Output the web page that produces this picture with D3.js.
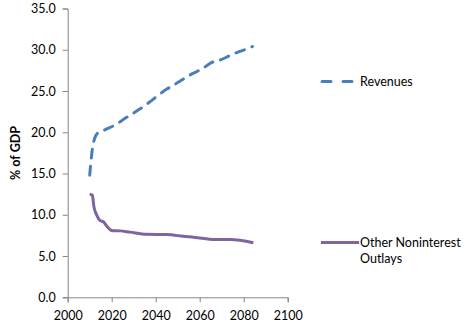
<!DOCTYPE html>
<html><head><meta charset="utf-8">
<script src="https://cdn.jsdelivr.net/npm/d3@7"></script>
<style>body{margin:0;background:#fff}svg{display:block}</style>
</head><body>
<svg id="c" width="467" height="330"></svg>
<script>
const revYears = [2010,2010.9,2011.6,2013.6,2017,2022.3,2025.6,2029.8,2033.3,2037.4,2040.8,2044.9,2048.7,2052.9,2056.7,2061.2,2065,2069.7,2073.8,2078.3,2082.4,2084];
const revValues = [14.8,17.3,18.6,19.9,20.3,21.0,21.6,22.3,22.9,23.7,24.4,25.2,25.8,26.5,27.1,27.7,28.4,28.8,29.3,29.8,30.2,30.4];
const outYears = [2010,2011.2,2011.9,2013.2,2014.7,2016.2,2017.7,2020,2023.8,2028.3,2035.9,2045,2052.5,2060,2066,2073.8,2084.4];
const outValues = [12.5,12.4,11.0,9.95,9.3,9.15,8.65,8.1,8.05,7.9,7.65,7.6,7.4,7.2,7.0,7.0,6.6];
const xTicks = [2000,2020,2040,2060,2080,2100];
const yTicks = [0,5,10,15,20,25,30,35];
const seriesNames = ["Revenues","Other Noninterest Outlays"];
const colors = ["#4a7ebb","#7f64a2"];

const svg = d3.select("#c");
const x = d3.scaleLinear().domain([2000,2100]).range([67.7,287.7]);
const y = d3.scaleLinear().domain([0,35]).range([297.3,8.5]);
const font = "Lato, 'Open Sans', sans-serif";

const xa = svg.append("g").attr("transform",`translate(0,${y(0)})`)
  .call(d3.axisBottom(x).tickValues(xTicks).tickFormat(d3.format("d")).tickSizeOuter(0).tickSize(5).tickPadding(9));
const ya = svg.append("g").attr("transform",`translate(${x(2000)},0)`)
  .call(d3.axisLeft(y).tickValues(yTicks).tickFormat(d3.format(".1f")).tickSizeOuter(0).tickSize(5).tickPadding(7));
[xa,ya].forEach(a=>{
  a.selectAll("path,line").attr("stroke","#868686").attr("stroke-width",1);
  a.selectAll("text").attr("font-family",font).attr("font-size",12.5).attr("fill","#000");
});

svg.append("text").attr("transform","translate(20,153) rotate(-90)")
  .attr("text-anchor","middle").attr("font-family",font).attr("font-size",12.5).attr("font-weight","bold")
  .text("% of GDP");

const line = d3.line().x(d=>x(d[0])).y(d=>y(d[1])).curve(d3.curveMonotoneX);
svg.append("path").datum(d3.zip(revYears,revValues)).attr("d",line)
  .attr("fill","none").attr("stroke",colors[0]).attr("stroke-width",3).attr("stroke-dasharray","9,8")
  .attr("stroke-linecap","round");
svg.append("path").datum(d3.zip(outYears,outValues)).attr("d",line)
  .attr("fill","none").attr("stroke",colors[1]).attr("stroke-width",3).attr("stroke-linejoin","round");

// legend
const lg = svg.append("g");
lg.append("line").attr("x1",322).attr("x2",353).attr("y1",81.5).attr("y2",81.5)
  .attr("stroke",colors[0]).attr("stroke-width",3).attr("stroke-dasharray","9,12").attr("stroke-linecap","round");
lg.append("text").attr("x",360).attr("y",85.5).attr("font-family",font).attr("font-size",12.5).text(seriesNames[0]);
lg.append("line").attr("x1",321).attr("x2",359).attr("y1",242.5).attr("y2",242.5)
  .attr("stroke",colors[1]).attr("stroke-width",3);
const t2 = lg.append("text").attr("font-family",font).attr("font-size",12.5);
t2.append("tspan").attr("x",360).attr("y",246.5).text("Other Noninterest");
t2.append("tspan").attr("x",360).attr("y",262.5).text("Outlays");
</script>
</body></html>
